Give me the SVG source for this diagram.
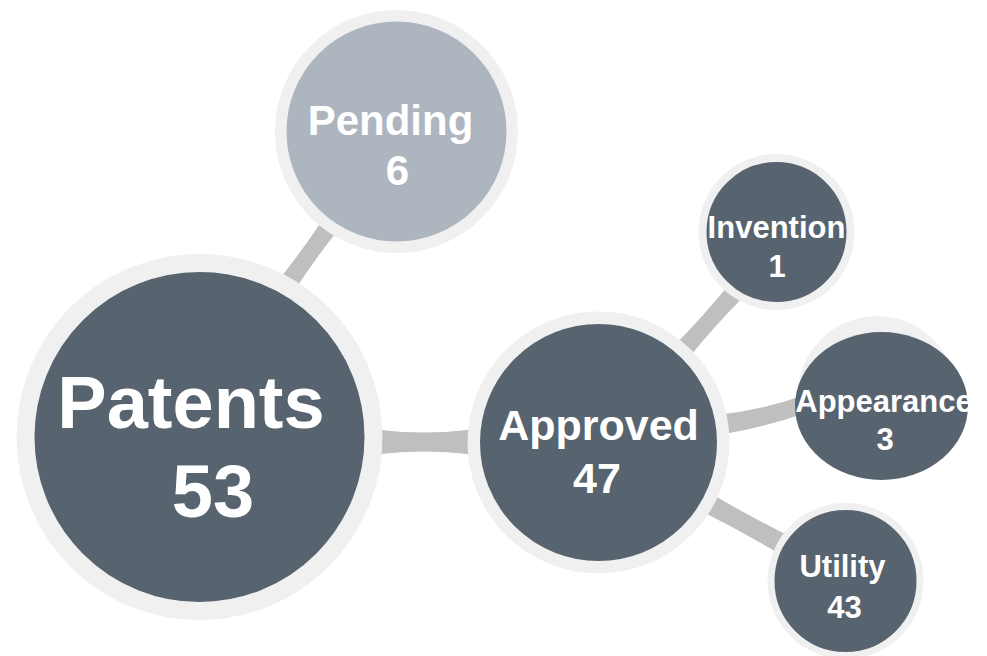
<svg xmlns="http://www.w3.org/2000/svg" width="987" height="656" viewBox="0 0 987 656">
<style>
.link{fill:#bfbfbf}
.halo{fill:none;stroke:#f0f0f0}
.dark{fill:#57636f}
.light{fill:#adb5bf}
.lbl{font-family:"Liberation Sans",Arial,sans-serif;font-weight:bold;fill:#ffffff;text-anchor:middle}
</style>
<rect width="987" height="656" fill="#ffffff"/>
<g id="connectors">
<path class="link" d="M295.8,288.7 Q316,257.4 339.4,228.5 L324.2,217.2 Q304,248.4 280.6,277.4 Z"/>
<path class="link" d="M376,429.5 Q424,435.5 472,429.5 L472,454.5 Q424,448.5 376,454.5 Z"/>
<path class="link" d="M674.3,345.5 Q703.2,316.2 729,284.4 L743.2,297 Q714.3,326.3 688.5,358.1 Z"/>
<path class="link" d="M719,414.5 Q761,410.5 803,395.5 L807,412.5 Q766,427 724,434 Z"/>
<path class="link" d="M700.7,510.8 Q740.5,530.9 778.9,553.4 L788.5,535.8 Q748.7,515.8 710.3,493.2 Z"/>
</g>
<g id="node-patents">
<circle class="dark" cx="199.5" cy="437" r="174"/>
<circle class="halo" cx="199.5" cy="437" r="174" stroke-width="18"/>
<text class="lbl" x="191" y="428" font-size="74">Patents</text>
<text class="lbl" x="213" y="517" font-size="74">53</text>
</g>
<g id="node-pending">
<circle class="light" cx="396.5" cy="131.5" r="115.75"/>
<circle class="halo" cx="396.5" cy="131.5" r="115.75" stroke-width="11.5"/>
<text class="lbl" x="390.5" y="135" font-size="42">Pending</text>
<text class="lbl" x="397.5" y="185" font-size="42">6</text>
</g>
<g id="node-approved">
<circle class="dark" cx="598.5" cy="442.5" r="124.75"/>
<circle class="halo" cx="598.5" cy="442.5" r="124.75" stroke-width="12.5"/>
<text class="lbl" x="598.5" y="440" font-size="43">Approved</text>
<text class="lbl" x="597" y="493" font-size="43">47</text>
</g>
<g id="node-invention">
<circle class="dark" cx="776.5" cy="232" r="74"/>
<circle class="halo" cx="776.5" cy="232" r="74" stroke-width="8"/>
<text class="lbl" x="776.5" y="238" font-size="31">Invention</text>
<text class="lbl" x="777" y="277" font-size="31">1</text>
</g>
<g id="node-appearance">
<circle cx="877" cy="395" r="79" fill="#f0f0f0"/>
<ellipse class="dark" cx="881.5" cy="406" rx="86.5" ry="74"/>
<text class="lbl" x="884" y="412" font-size="31">Appearance</text>
<text class="lbl" x="885" y="450" font-size="31">3</text>
</g>
<g id="node-utility">
<circle class="dark" cx="845.5" cy="581" r="74.5"/>
<circle class="halo" cx="845.5" cy="581" r="74.5" stroke-width="7"/>
<text class="lbl" x="842.5" y="577" font-size="31">Utility</text>
<text class="lbl" x="844.5" y="618" font-size="31">43</text>
</g>
</svg>
